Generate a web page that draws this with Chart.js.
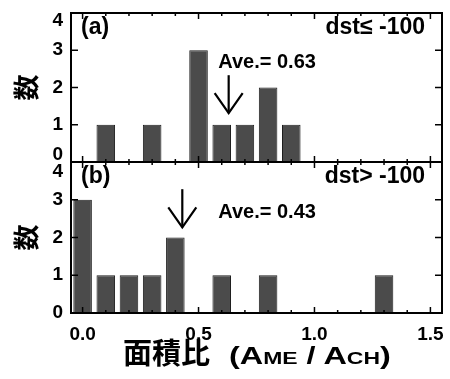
<!DOCTYPE html>
<html><head><meta charset="utf-8">
<script src="https://cdn.jsdelivr.net/npm/chart.js@4/dist/chart.umd.min.js"></script>
<style>
body{margin:0;background:#fff;}
#wrap{position:relative;width:450px;height:379px;overflow:hidden;}
canvas{position:absolute;left:0;top:0;}
#xt{position:absolute;left:123px;top:330px;text-align:left;font-family:'Liberation Sans',Arial,sans-serif;font-weight:bold;font-size:24px;white-space:nowrap;color:#000;}
#xt .cjk{font-family:'Noto Sans CJK JP',sans-serif;font-size:29px;}
#xt .lat{display:inline-block;transform:scaleX(1.35);transform-origin:0 50%;margin-left:19px;}
#xt .sc{font-size:17px;}
</style></head><body>
<div id="wrap">
<canvas id="ca" width="450" height="379"></canvas>
<canvas id="cb" width="450" height="379"></canvas>
<div id="xt"><span class="cjk">面積比</span><span class="lat">(A<span class="sc">ME</span> / A<span class="sc">CH</span>)</span></div>
</div>
<script>
// ---- data ----
const binsA = [0.1, 0.3, 0.5, 0.6, 0.7, 0.8, 0.9];
const countsA = [1, 1, 3, 1, 1, 2, 1];
const binsB = [0.0, 0.1, 0.2, 0.3, 0.4, 0.6, 0.8, 1.3];
const countsB = [3, 1, 1, 1, 2, 1, 1, 1];
const xTicks = [0.0, 0.5, 1.0, 1.5];
const xMinorTicks = [0.0,0.1,0.2,0.3,0.4,0.5,0.6,0.7,0.8,0.9,1.0,1.1,1.2,1.3,1.4,1.5];
const yTicks = [0, 1, 2, 3, 4];
const aveA = 0.63, aveB = 0.43;
const arrowA = [2.33, 1.31];   // arrow from/to (count units)
const arrowB = [3.28, 2.27];
const aveLabelPos = [0.585, 2.67];
const panelLabels = ['(a)', '(b)'];
const dstLabels = ['dst≤ -100', 'dst> -100'];
const yTitle = '数';

const FONT = "'Liberation Sans', Arial, sans-serif";
// edge tick labels nudged inside the panel: value -> [direction, lineHeight]
const edgeNudge = [{4: ['down', 0.8], 0: ['up', 0.8]}, {4: ['down', 1.0]}];

function makePlugin(idx, ave, arrow){
  return {
    id: 'frame' + idx,
    afterDatasetsDraw(chart){
      const {ctx, chartArea: a, scales: {x, y}} = chart;
      ctx.save();
      ctx.strokeStyle = '#000';
      const line = (x1,y1,x2,y2)=>{ctx.beginPath();ctx.moveTo(x1,y1);ctx.lineTo(x2,y2);ctx.stroke();};
      ctx.lineWidth = 1.5;
      xMinorTicks.forEach(v=>{
        const px = x.getPixelForValue(v);
        const major = xTicks.some(t=>Math.abs(t-v)<1e-9);
        const len = major ? 6 : 3;
        line(px, a.bottom, px, a.bottom - len);
        line(px, a.top, px, a.top + len);
      });
      yTicks.forEach(v=>{
        const py = y.getPixelForValue(v);
        line(a.left, py, a.left + 7, py);
        line(a.right, py, a.right - 7, py);
      });
      ctx.lineWidth = 2;
      ctx.strokeRect(a.left, a.top, a.right - a.left, a.bottom - a.top);
      // arrow
      const ax = x.getPixelForValue(ave);
      const y1 = y.getPixelForValue(arrow[0]);
      const y2 = y.getPixelForValue(arrow[1]);
      ctx.lineWidth = 2.2;
      line(ax, y1, ax, y2);
      ctx.beginPath();
      ctx.moveTo(ax - 14, y2 - 20); ctx.lineTo(ax, y2); ctx.lineTo(ax + 14, y2 - 20);
      ctx.stroke();
      // texts
      ctx.fillStyle = '#000';
      ctx.font = 'bold 23px ' + FONT;
      ctx.textBaseline = 'top';
      ctx.textAlign = 'left';
      ctx.fillText(panelLabels[idx], a.left + 10, a.top + 3);
      ctx.textAlign = 'right';
      ctx.fillText(dstLabels[idx], a.right - 17, a.top + 3);
      ctx.font = 'bold 20px ' + FONT;
      ctx.textAlign = 'left';
      ctx.textBaseline = 'middle';
      ctx.fillText('Ave.= ' + ave.toFixed(2), x.getPixelForValue(aveLabelPos[0]), y.getPixelForValue(aveLabelPos[1]));
      ctx.restore();
    }
  };
}

function makeChart(id, bins, counts, idx, ave, arrow, showX, padTop, padBottom){
  const nudge = edgeNudge[idx];
  return new Chart(document.getElementById(id), {
    type: 'bar',
    data: {
      datasets: [{
        data: bins.map((b,i)=>({x:b, y:counts[i]})),
        backgroundColor: '#4b4b4b',
        borderColor: '#1e1e1e',
        borderWidth: 1,
        categoryPercentage: 1,
        barPercentage: 0.8
      }]
    },
    options: {
      responsive: false,
      animation: false,
      devicePixelRatio: 1,
      layout: {padding: {top: padTop, bottom: padBottom, left: 0, right: 8}},
      plugins: {legend: {display: false}, tooltip: {enabled: false}},
      scales: {
        x: {
          type: 'linear', min: -0.05, max: 1.55, offset: false,
          display: showX,
          afterBuildTicks: s => { s.ticks = xTicks.map(v=>({value:v})); },
          afterFit: s => { s.height = showX ? 36 : 0; s.paddingLeft = 0; s.paddingRight = 0; },
          grid: {display: false, drawTicks: false},
          border: {display: false},
          ticks: {color: '#000', padding: 10, font: {family: FONT, size: 19, weight: 'bold'},
                  callback: v => Number(v).toFixed(1), maxRotation: 0, autoSkip: false}
        },
        y: {
          min: 0, max: 4,
          afterBuildTicks: s => { s.ticks = yTicks.map(v=>({value:v})); },
          afterFit: s => { s.width = 71; s.paddingTop = 0; s.paddingBottom = 0; },
          grid: {display: false, drawTicks: false},
          border: {display: false},
          ticks: {
            color: '#000', padding: 8, autoSkip: false,
            font: c => {
              const n = c.tick ? nudge[c.tick.value] : null;
              return {family: FONT, size: 19, weight: 'bold', lineHeight: n ? n[1] : 1.2};
            },
            callback: v => {
              const n = nudge[v];
              const s = String(v);
              if (!n) return s;
              return n[0] === 'down' ? ['', s] : [s, ''];
            }
          },
          title: {display: true, text: yTitle, color: '#000',
                  font: {family: "'Noto Sans CJK JP', sans-serif", size: 26, weight: 'bold'},
                  padding: {top: 11, bottom: 0}}
        }
      }
    },
    plugins: [makePlugin(idx, ave, arrow)]
  });
}

makeChart('ca', binsA, countsA, 0, aveA, arrowA, false, 13, 379 - 162);
makeChart('cb', binsB, countsB, 1, aveB, arrowB, true, 162, 379 - 313 - 36);
</script>
</body></html>
